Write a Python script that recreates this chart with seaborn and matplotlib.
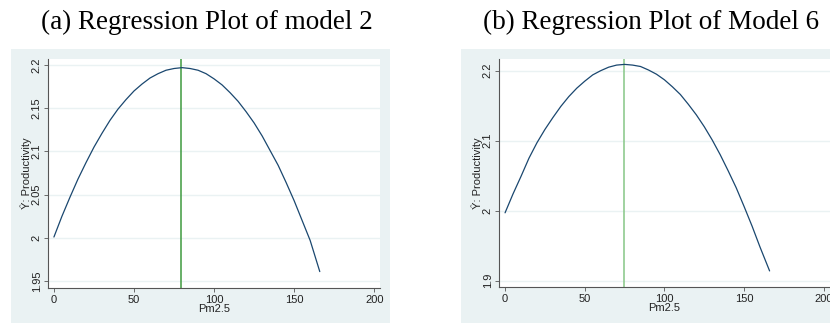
import matplotlib
matplotlib.use("Agg")
import matplotlib.pyplot as plt
from matplotlib.patches import Rectangle
import seaborn as sns
import pandas as pd

# ---- data ----
titles = ["(a) Regression Plot of model 2", "(b) Regression Plot of Model 6"]

pm_a = [0, 5, 10, 15, 20, 25, 30, 35, 40, 45, 50, 55, 60, 65, 70, 75, 80, 85, 90, 95,
        100, 105, 110, 115, 120, 125, 130, 135, 140, 145, 150, 155, 160, 163, 166]
yhat_a = [2.001, 2.025, 2.047, 2.068, 2.087, 2.105, 2.121, 2.136, 2.149, 2.160, 2.170,
          2.178, 2.185, 2.190, 2.194, 2.196, 2.197, 2.196, 2.194, 2.190, 2.184, 2.177,
          2.168, 2.158, 2.146, 2.133, 2.118, 2.101, 2.084, 2.064, 2.043, 2.020, 1.997,
          1.979, 1.961]
peak_a = 79.5

pm_b = [0, 5, 10, 15, 20, 25, 30, 35, 40, 45, 50, 55, 60, 65, 70, 75, 80, 85, 90, 95,
        100, 105, 110, 115, 120, 125, 130, 135, 140, 145, 150, 155, 160, 163, 166]
yhat_b = [1.997, 2.024, 2.049, 2.075, 2.097, 2.116, 2.133, 2.149, 2.163, 2.175, 2.185,
          2.194, 2.200, 2.205, 2.208, 2.209, 2.208, 2.206, 2.201, 2.195, 2.187, 2.177,
          2.166, 2.152, 2.137, 2.120, 2.101, 2.080, 2.057, 2.033, 2.006, 1.978, 1.948,
          1.931, 1.914]
peak_b = 74.5

xticks = [0, 50, 100, 150, 200]
xtick_labels = ["0", "50", "100", "150", "200"]
yticks_a = [1.95, 2.0, 2.05, 2.1, 2.15, 2.2]
ytick_labels_a = ["1.95", "2", "2.05", "2.1", "2.15", "2.2"]
yticks_b = [1.9, 2.0, 2.1, 2.2]
ytick_labels_b = ["1.9", "2", "2.1", "2.2"]

xlabel = "Pm2.5"
ylabel = "Ŷ: Productivity"

# ---- style ----
sns.set_theme(style="white")
plt.rcParams["font.family"] = ["Liberation Sans", "DejaVu Sans"]

W, H = 830, 323
fig = plt.figure(figsize=(W / 100, H / 100), dpi=100)
fig.patch.set_facecolor("white")

BG = "#eaf2f3"
NAVY = "#1a476f"

def px_rect(x0, y0, x1, y1):
    return [x0 / W, 1 - y1 / H, (x1 - x0) / W, (y1 - y0) / H]

# outer graph regions
for (x0, y0, x1, y1) in [(11, 49, 390, 323), (461, 49, 830, 323)]:
    l, b, w, h = px_rect(x0, y0, x1, y1)
    fig.patches.append(Rectangle((l, b), w, h, transform=fig.transFigure,
                                 facecolor=BG, edgecolor="none", zorder=0))

panels = [
    dict(rect=px_rect(48, 59, 380, 288), x=pm_a, y=yhat_a, peak=peak_a,
         yt=yticks_a, ytl=ytick_labels_a, ylim=(1.942, 2.207), xlim=(-3.7, 203.6),
         green="#3f9a3f", tx=207),
    dict(rect=px_rect(499, 59, 830, 287.3), x=pm_b, y=yhat_b, peak=peak_b,
         yt=yticks_b, ytl=ytick_labels_b, ylim=(1.8906, 2.2167), xlim=(-3.8, 203.9),
         green="#86c686", tx=651),
]

for i, p in enumerate(panels):
    ax = fig.add_axes(p["rect"])
    ax.set_facecolor("white")
    ax.set_zorder(1)
    df = pd.DataFrame({"pm": p["x"], "yhat": p["y"]})
    for yv in p["yt"]:
        ax.axhline(yv, color=BG, lw=1.0, zorder=0)
    sns.lineplot(data=df, x="pm", y="yhat", ax=ax, color=NAVY, lw=0.9,
                 estimator=None, sort=False, zorder=3)
    ax.axvline(p["peak"], color=p["green"], lw=1.1, zorder=2)
    ax.set_xlim(*p["xlim"])
    ax.set_ylim(*p["ylim"])
    ax.set_xticks(xticks)
    ax.set_xticklabels(xtick_labels)
    ax.set_yticks(p["yt"])
    ax.set_yticklabels(p["ytl"], rotation=90, va="center")
    ax.tick_params(axis="both", which="major", direction="out", length=3.0,
                   width=0.6, color="#555555", labelsize=8, labelcolor="#222222",
                   bottom=True, left=True, pad=2)
    ax.tick_params(axis="y", pad=1.5)
    for s in ["top", "right"]:
        ax.spines[s].set_visible(False)
    for s in ["left", "bottom"]:
        ax.spines[s].set_color("#555555")
        ax.spines[s].set_linewidth(0.8)
    ax.set_xlabel(xlabel, fontsize=8, color="#222222", labelpad=-1)
    ax.set_ylabel(ylabel, fontsize=8, color="#222222", labelpad=0)
    fig.text(p["tx"] / W, 1 - 22 / H, titles[i], ha="center", va="center",
             fontsize=19.5, family=["Liberation Serif", "DejaVu Serif"], color="black")

fig.savefig("out.png", dpi=100, facecolor="white")
